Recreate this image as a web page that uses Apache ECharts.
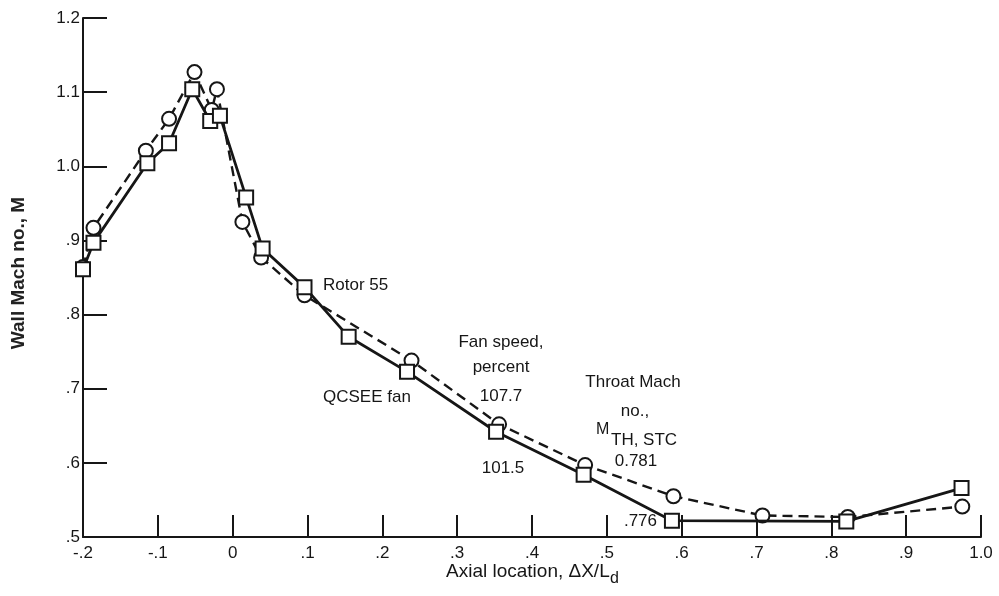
<!DOCTYPE html>
<html>
<head>
<meta charset="utf-8">
<title>Wall Mach number distribution</title>
<script src="https://cdn.jsdelivr.net/npm/echarts@6/dist/echarts.min.js"></script>
<style>
  html, body { margin: 0; padding: 0; background: #fff; }
  #chart { width: 999px; height: 596px; }
</style>
</head>
<body>
<div id="chart"></div>
<script>
// Axial location vs wall Mach number for two fans
const rotor55Points = [
  [-0.200, 0.864], [-0.186, 0.917], [-0.116, 1.021], [-0.085, 1.064],
  [-0.051, 1.127], [-0.028, 1.076], [-0.021, 1.104], [0.013, 0.925],
  [0.038, 0.877], [0.096, 0.826], [0.239, 0.738], [0.356, 0.652],
  [0.471, 0.597], [0.589, 0.555], [0.708, 0.529], [0.822, 0.527],
  [0.975, 0.541]
];
const qcseePoints = [
  [-0.200, 0.861], [-0.186, 0.897], [-0.114, 1.004], [-0.085, 1.031],
  [-0.054, 1.104], [-0.030, 1.061], [-0.017, 1.068], [0.018, 0.958],
  [0.040, 0.889], [0.096, 0.837], [0.155, 0.770], [0.233, 0.723],
  [0.352, 0.642], [0.469, 0.584], [0.587, 0.522], [0.820, 0.521],
  [0.974, 0.566]
];
const xTickValues = [-0.2, -0.1, 0, 0.1, 0.2, 0.3, 0.4, 0.5, 0.6, 0.7, 0.8, 0.9, 1.0];
const xTickLabels = ['-.2', '-.1', '0', '.1', '.2', '.3', '.4', '.5', '.6', '.7', '.8', '.9', '1.0'];
const yTickValues = [0.5, 0.6, 0.7, 0.8, 0.9, 1.0, 1.1, 1.2];
const yTickLabels = ['.5', '.6', '.7', '.8', '.9', '1.0', '1.1', '1.2'];

const FONT = '"Liberation Sans", Arial, sans-serif';
const INK = '#161616';

function lookup(values, labels, v) {
  for (let i = 0; i < values.length; i++) {
    if (Math.abs(values[i] - v) < 1e-6) return labels[i];
  }
  return '';
}

const chart = echarts.init(document.getElementById('chart'), null, { renderer: 'canvas' });

const markerStyle = { color: '#fff', borderColor: INK, borderWidth: 2 };

function text(x, y, str, opts) {
  return {
    type: 'text',
    x: x, y: y,
    style: Object.assign({
      text: str, fill: INK, font: '17px ' + FONT,
      textAlign: 'left', textVerticalAlign: 'middle'
    }, opts || {})
  };
}

chart.setOption({
  animation: false,
  backgroundColor: '#fff',
  grid: { left: 83, right: 18, top: 18, bottom: 59, containLabel: false },
  xAxis: {
    type: 'value',
    min: -0.2, max: 1.0, interval: 0.1,
    axisLine: { show: true, onZero: false, lineStyle: { color: INK, width: 2 } },
    axisTick: { show: true, inside: true, length: 22, lineStyle: { color: INK, width: 2 } },
    splitLine: { show: false },
    axisLabel: {
      margin: 8, color: INK, fontSize: 17, fontFamily: FONT,
      formatter: v => lookup(xTickValues, xTickLabels, v)
    }
  },
  yAxis: {
    type: 'value',
    min: 0.5, max: 1.2, interval: 0.1,
    axisLine: { show: true, onZero: false, lineStyle: { color: INK, width: 2 } },
    axisTick: { show: true, inside: true, length: 24, lineStyle: { color: INK, width: 2 } },
    splitLine: { show: false },
    axisLabel: {
      margin: 3, color: INK, fontSize: 17, fontFamily: FONT,
      formatter: v => lookup(yTickValues, yTickLabels, v)
    }
  },
  series: [
    {
      name: 'Rotor 55',
      type: 'line',
      data: rotor55Points,
      symbol: 'circle', symbolSize: 14,
      lineStyle: { color: INK, width: 2.4, type: [10, 6] },
      itemStyle: markerStyle,
      z: 3
    },
    {
      name: 'QCSEE fan',
      type: 'line',
      data: qcseePoints,
      symbol: 'rect', symbolSize: 14,
      lineStyle: { color: INK, width: 2.8 },
      itemStyle: markerStyle,
      z: 4
    }
  ],
  graphic: [
    text(323, 285, 'Rotor 55'),
    text(323, 397, 'QCSEE fan'),
    text(501, 342, 'Fan speed,', { textAlign: 'center' }),
    text(501, 367, 'percent', { textAlign: 'center' }),
    text(501, 396, '107.7', { textAlign: 'center' }),
    text(503, 468, '101.5', { textAlign: 'center' }),
    text(633, 382, 'Throat Mach', { textAlign: 'center' }),
    text(635, 411, 'no.,', { textAlign: 'center' }),
    text(596, 430, 'M', { font: '16px ' + FONT }),
    text(611, 440, 'TH, STC'),
    text(636, 461, '0.781', { textAlign: 'center' }),
    text(657, 521, '.776', { textAlign: 'right' }),
    text(446, 572, 'Axial location, \u0394X/L', { font: '19px ' + FONT }),
    text(610, 579, 'd', { font: '16px ' + FONT }),
    {
      type: 'text',
      x: 19, y: 273, rotation: Math.PI / 2,
      style: {
        text: 'Wall Mach no., M', fill: '#222', font: 'bold 19px ' + FONT,
        textAlign: 'center', textVerticalAlign: 'middle'
      }
    }
  ]
});
</script>
</body>
</html>
